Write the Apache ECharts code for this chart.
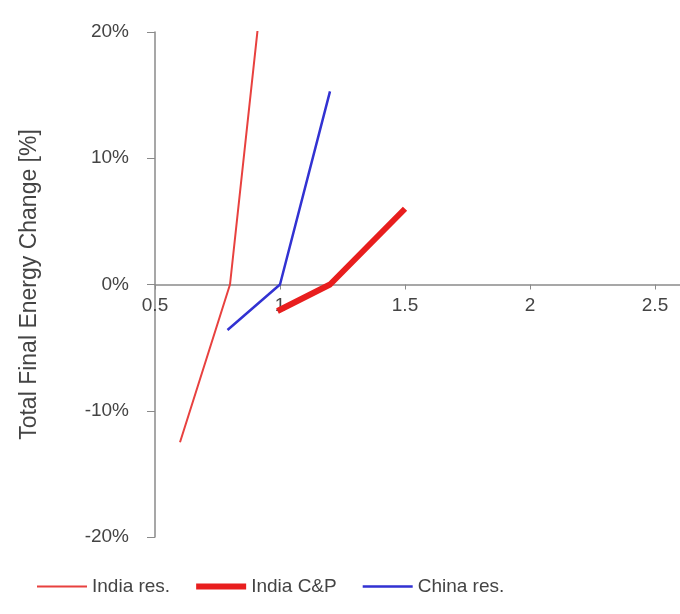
<!DOCTYPE html>
<html><head><meta charset="utf-8">
<script src="https://cdn.jsdelivr.net/npm/echarts@6/dist/echarts.min.js"></script>
<style>html,body{margin:0;padding:0;background:#fff}#c{width:680px;height:614px}</style>
</head><body><div id="c"></div>
<script>
const seriesNames = ['India res.', 'India C&P', 'China res.'];
const indiaResX = [0.6, 0.8, 0.91];
const indiaResY = [-12.5, 0, 20.1];
const indiaCPX = [0.99, 1.2, 1.5];
const indiaCPY = [-2.1, 0, 6.0];
const chinaResX = [0.79, 1.0, 1.2];
const chinaResY = [-3.6, 0, 15.3];
const yTicks = [-20, -10, 0, 10, 20];

const zip = (xs, ys) => xs.map((x, i) => [x, ys[i]]);
const font = 'Liberation Sans, Arial, sans-serif';
const gridTop = 32, gridBottom = 77, H = 614;
const plotH = H - gridTop - gridBottom;
const yMin = yTicks[0], yMax = yTicks[yTicks.length - 1];
const zeroOffset = -plotH * (0 - yMin) / (yMax - yMin);
const bar = (t) => {
  const y0 = 7 - t / 2, y1 = 7 + t / 2;
  return 'path://M0,0h0.05v0.05h-0.05z M0,' + y0 + 'H50V' + y1 + 'H0z M49.95,13.95h0.05v0.05h-0.05z';
};
const colors = ['#e8413f', '#e81e1e', '#3232d2'];
const widths = [2, 6, 2.5];
const chart = echarts.init(document.getElementById('c'));
chart.setOption({
  animation: false,
  backgroundColor: '#fff',
  grid: { left: 155, right: 0, top: gridTop, bottom: gridBottom, containLabel: false },
  xAxis: {
    type: 'value', min: 0.5, max: 2.6, interval: 0.5, offset: zeroOffset,
    axisLine: { onZero: false, lineStyle: { color: '#8a8a8a', width: 1.5 } },
    axisTick: { show: true, length: 5, lineStyle: { color: '#8a8a8a' } },
    axisLabel: { showMaxLabel: false, color: '#444', fontSize: 19, fontFamily: font, margin: 12 },
    splitLine: { show: false }
  },
  yAxis: {
    type: 'value', min: yMin, max: yMax, interval: 10,
    name: 'Total Final Energy Change [%]', nameLocation: 'middle', nameGap: 114,
    nameTextStyle: { color: '#444', fontSize: 23, fontFamily: font },
    axisLine: { show: true, lineStyle: { color: '#8a8a8a', width: 1.5 } },
    axisTick: { show: true, length: 8, lineStyle: { color: '#8a8a8a' } },
    axisLabel: { color: '#444', fontSize: 19, fontFamily: font, margin: 26, formatter: v => v + '%' },
    splitLine: { show: false }
  },
  legend: {
    bottom: 13, left: 32, itemGap: 26, itemWidth: 50, itemHeight: 14,
    textStyle: { color: '#444', fontSize: 19, fontFamily: font },
    data: seriesNames.map((n, i) => ({ name: n, icon: bar(widths[i]), itemStyle: { color: colors[i] } }))
  },
  series: seriesNames.map((n, i) => ({
    name: n, type: 'line', symbol: 'none',
    data: [zip(indiaResX, indiaResY), zip(indiaCPX, indiaCPY), zip(chinaResX, chinaResY)][i],
    lineStyle: { color: colors[i], width: widths[i] }, itemStyle: { color: colors[i] }
  }))
});
</script></body></html>
